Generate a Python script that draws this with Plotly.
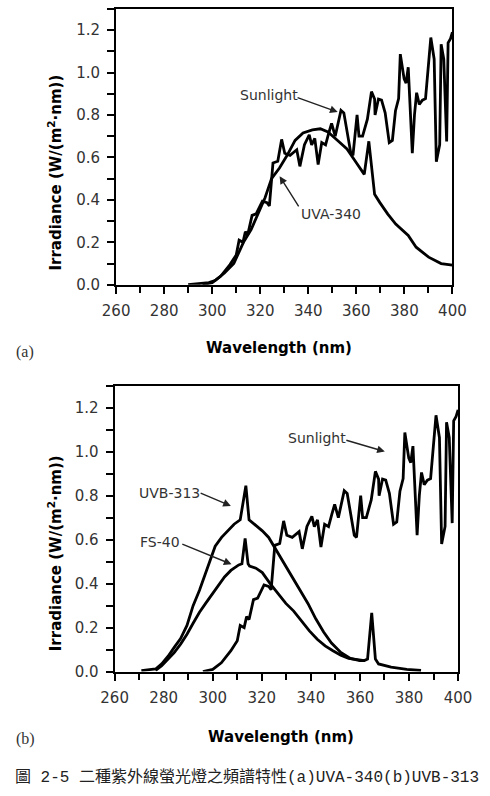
import plotly.graph_objects as go

# ---------------- data ----------------
sun_wl = [296, 300, 303.5, 307.4, 310, 311.2, 312.8, 313.8, 314.8, 316.6, 318.3, 319.6, 320.9,
          322.8, 323.8, 325.3, 327.3, 328.9, 330.2, 332.4, 334.3, 335.2, 336.5, 338.4, 340.4,
          341.4, 342.7, 344.1, 345.6, 347.2, 348.5, 349.7, 351.2, 353.6, 354.8, 356.1, 357.7,
          358.6, 360.3, 361.1, 362.6, 364.6, 366.3, 367.6, 367.8, 369.2, 370.5, 372, 373.1,
          373.7, 375, 376.3, 377.6, 378.3, 379.9, 380.7, 381.6, 383.3, 384.2, 385.1, 386.2,
          387.5, 388.8, 390.1, 391, 392.4, 393.3, 394.7, 395.3, 396.4, 397.6, 398.2, 399.2, 400]
sun_val = [0.0, 0.01, 0.04, 0.095, 0.14, 0.21, 0.2, 0.25, 0.237, 0.327, 0.334, 0.365, 0.394,
           0.387, 0.372, 0.574, 0.582, 0.685, 0.62, 0.61, 0.63, 0.636, 0.558, 0.66, 0.706,
           0.659, 0.69, 0.566, 0.67, 0.659, 0.714, 0.76, 0.70, 0.822, 0.81, 0.72, 0.62,
           0.61, 0.80, 0.70, 0.70, 0.78, 0.91, 0.875, 0.80, 0.875, 0.87, 0.81, 0.72,
           0.67, 0.68, 0.82, 0.877, 1.087, 0.97, 0.95, 1.025, 0.62, 0.80, 0.905, 0.85,
           0.87, 0.877, 1.03, 1.165, 1.063, 0.58, 0.66, 1.133, 1.063, 0.675, 1.14, 1.16, 1.19]

uva_wl = [290, 298.6, 301.2, 305.1, 309, 311, 313, 316.2, 319.5, 322, 324.7, 328, 331.2, 334.5,
          337.8, 341.7, 345, 348.2, 352.2, 356.1, 360, 363.3, 365.2, 367.6, 369.8, 373.1,
          376.4, 381.6, 384.9, 390.1, 395.3, 400]
uva_val = [0.0, 0.01, 0.02, 0.055, 0.10, 0.15, 0.20, 0.26, 0.35, 0.41, 0.50, 0.55, 0.61, 0.68,
           0.715, 0.73, 0.735, 0.72, 0.68, 0.64, 0.575, 0.52, 0.676, 0.426, 0.387, 0.333,
           0.286, 0.232, 0.177, 0.13, 0.10, 0.092]

uvb_wl = [270.9, 276.7, 279.2, 281.8, 284.3, 286.9, 289.5, 292, 294.6, 297.1, 299.1, 301,
          303.6, 306.1, 308.7, 311.2, 313.5, 314.8, 317, 320.2, 322.8, 326, 329.2, 332.4,
          335.6, 338.8, 342, 345.2, 348.4, 352.2, 356.1, 359.9, 362]
uvb_val = [0.005, 0.012, 0.035, 0.07, 0.11, 0.15, 0.21, 0.30, 0.37, 0.45, 0.51, 0.57,
           0.61, 0.64, 0.67, 0.69, 0.845, 0.69, 0.67, 0.64, 0.61, 0.55, 0.49, 0.43,
           0.37, 0.31, 0.24, 0.18, 0.13, 0.087, 0.06, 0.05, 0.05]

fs_wl = [276.7, 279.2, 281.8, 284.3, 286.9, 289.5, 292, 294.6, 297.1, 299.7, 302.3, 304.8,
         307.4, 310.6, 311.9, 313.2, 314.4, 315, 317.6, 320.2, 323.4, 326.6, 329.8, 333,
         336.2, 339.4, 342.6, 345.8, 349, 352.2, 355.4, 358.6, 361.8, 363.1, 364.8, 366.3,
         367.6, 372.7, 379.1, 384.9]
fs_val = [0.005, 0.027, 0.057, 0.087, 0.125, 0.17, 0.22, 0.27, 0.31, 0.35, 0.395, 0.43,
          0.46, 0.485, 0.49, 0.605, 0.49, 0.48, 0.47, 0.45, 0.40, 0.357, 0.31, 0.275,
          0.23, 0.185, 0.147, 0.117, 0.095, 0.075, 0.06, 0.054, 0.05, 0.057, 0.267, 0.057,
          0.035, 0.02, 0.01, 0.005]

x_ticks = [260, 280, 300, 320, 340, 360, 380, 400]
y_ticks = [0.0, 0.2, 0.4, 0.6, 0.8, 1.0, 1.2]

caption = "圖 2-5 二種紫外線螢光燈之頻譜特性(a)UVA-340(b)UVB-313"

# ---------------- figure ----------------
W, H = 490, 796
LINE = dict(color="black", width=2.8)

fig = go.Figure()
fig.add_trace(go.Scatter(x=uva_wl, y=uva_val, mode="lines", line=LINE, xaxis="x", yaxis="y"))
fig.add_trace(go.Scatter(x=sun_wl, y=sun_val, mode="lines", line=LINE, xaxis="x", yaxis="y"))
fig.add_trace(go.Scatter(x=uvb_wl, y=uvb_val, mode="lines", line=LINE, xaxis="x2", yaxis="y2"))
fig.add_trace(go.Scatter(x=fs_wl, y=fs_val, mode="lines", line=LINE, xaxis="x2", yaxis="y2"))
fig.add_trace(go.Scatter(x=sun_wl, y=sun_val, mode="lines", line=LINE, xaxis="x2", yaxis="y2"))

def px(x):
    return x / W

def py(y):
    return 1 - y / H

tickfont = dict(family="DejaVu Sans", size=15, color="#333")
common_x = dict(range=[260, 400], tickvals=x_ticks, ticks="outside", ticklen=7, tickwidth=1.5,
                tickcolor="black", showline=True, linecolor="black", linewidth=2, mirror=True,
                showgrid=False, zeroline=False, tickfont=tickfont, ticklabelstandoff=4,
                minor=dict(ticks="outside", dtick=10, ticklen=6, tickwidth=1.5, tickcolor="black"))
common_y = dict(range=[0, 1.3], tickvals=y_ticks, tickformat=".1f", ticks="outside", ticklen=7,
                tickwidth=1.5, tickcolor="black", showline=True, linecolor="black", linewidth=2,
                mirror=True, showgrid=False, zeroline=False, tickfont=tickfont, ticklabelstandoff=4,
                minor=dict(ticks="outside", dtick=0.1, ticklen=7, tickwidth=1.5, tickcolor="black"))

fig.update_layout(
    width=W, height=H, margin=dict(l=0, r=0, t=0, b=0),
    paper_bgcolor="white", plot_bgcolor="white", showlegend=False,
    xaxis=dict(domain=[px(108.3), px(465)], anchor="y", **common_x),
    yaxis=dict(domain=[py(288), py(9)], anchor="x", **common_y),
    xaxis2=dict(domain=[px(106.7), px(471)], anchor="y2", **common_x),
    yaxis2=dict(domain=[py(679.3), py(390)], anchor="x2", **common_y),
)

ann = []
txtfont = dict(family="DejaVu Sans", size=14, color="#333")
boldfont = dict(family="DejaVu Sans", size=15, color="black")

def label(text, x, y, font=txtfont, angle=0):
    ann.append(dict(text=text, x=px(x), y=py(y), xref="paper", yref="paper", showarrow=False,
                    xanchor="center", yanchor="middle", font=font, textangle=angle))

def arrow(tx, ty, hx, hy):
    ann.append(dict(text="", x=px(hx), y=py(hy), xref="paper", yref="paper", showarrow=True,
                    ax=tx - hx, ay=ty - hy, axref="pixel", ayref="pixel",
                    arrowhead=2, arrowsize=1.1, arrowwidth=1.4, arrowcolor="#222"))

# axis titles
label("<b>Irradiance (W/(m<sup>2</sup>·nm))</b>", 43, 175, boldfont, -90)
label("<b>Wavelength (nm)</b>", 281, 352, boldfont)
label("<b>Irradiance (W/(m<sup>2</sup>·nm))</b>", 43, 560, boldfont, -90)
label("<b>Wavelength (nm)</b>", 283, 745, boldfont)

# panel letters
serif = dict(family="Liberation Serif", size=16, color="#333")
label("(a)", 12, 356, serif)
label("(b)", 12, 747, serif)

# series labels & arrows
label("Sunlight", 270, 96)
arrow(301.7, 98.3, 343.3, 113.3)
label("UVA-340", 336.7, 216.7)
arrow(301.7, 210, 281.7, 178.3)
label("Sunlight", 321.7, 443.3)
arrow(353.3, 445, 393.3, 456.7)
label("UVB-313", 165, 498.3)
arrow(198.3, 498.3, 230, 511.7)
label("FS-40", 155, 548.3)
arrow(180, 550, 230.7, 570.7)

# caption
label(caption, 247, 786, dict(family="Liberation Mono, Noto Sans CJK TC", size=16, color="#222"))

fig.update_layout(annotations=ann)
fig.write_html("out.html")
